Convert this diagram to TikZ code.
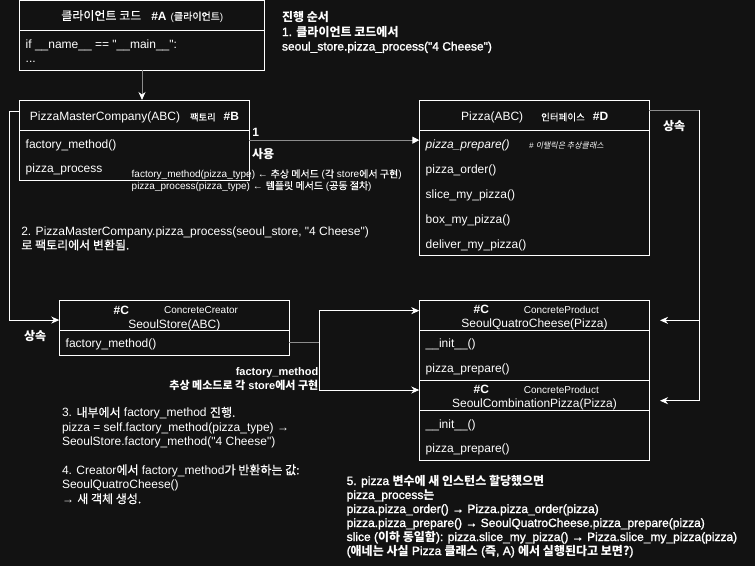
\documentclass[tikz,border=0pt]{standalone}
\usepackage{fontspec}
\setmainfont{Liberation Sans}[Ligatures=TeXOff]
\newfontfamily\fakeb{Liberation Sans}[FakeBold=1.6,Ligatures=TeXOff]
\newfontfamily\krf[FakeBold=0.5]{Noto Sans CJK KR}
\newfontfamily\krfb{Noto Sans CJK KR}
\newfontfamily\krfit[FakeSlant=0.2]{Noto Sans CJK KR}
\newcommand\K[1]{{\krf #1}}
\newcommand\KB[1]{{\krfb\bfseries #1}}
\usetikzlibrary{arrows.meta}
\definecolor{bg}{HTML}{121212}
\definecolor{lgray}{HTML}{8C8C8C}
\begin{document}
\begin{tikzpicture}[x=1pt,y=-1pt,
  box/.style={draw=white,line width=1pt,inner sep=0pt,outer sep=0pt,anchor=north west},
  sep/.style={draw=white,line width=1pt},
  wline/.style={draw=white,line width=1pt},
  gline/.style={draw=lgray,line width=1pt},
  wtip/.style={-{Stealth[length=8pt,width=7pt,inset=2.5pt,color=white]}},
  ttip/.style={-{Triangle[length=7pt,width=7pt,color=white]}},
  txt/.style={inner sep=0pt,outer sep=0pt,text=white,anchor=base west,font=\fontsize{12}{14.4}\selectfont},
  ctxt/.style={txt,anchor=base},
  btxt/.style={txt,font=\fontsize{12}{14}\selectfont\fakeb},
  rb11/.style={txt,anchor=base east,font=\fontsize{11}{13}\selectfont\bfseries},
  stxt/.style={txt,font=\fontsize{10}{12}\selectfont},
  bold12/.style={txt,font=\fontsize{12}{14.4}\selectfont\bfseries},
  small/.style={txt,anchor=base,font=\fontsize{10}{12}\selectfont},
]
\useasboundingbox[fill=bg] (0,0) rectangle (755,566);

% boxes
\node[box,minimum width=244.6pt,minimum height=69.6pt] (A) at (19.7,0.7) {};
\node[box,minimum width=229.6pt,minimum height=80.3pt] (B) at (19.7,100) {};
\node[box,minimum width=230pt,minimum height=154.3pt] (P) at (419.3,100.7) {};
\node[box,minimum width=230pt,minimum height=54.3pt] (S) at (59.3,300.7) {};
\node[box,minimum width=230pt,minimum height=79.7pt] (Q) at (419.3,300.3) {};
\node[box,minimum width=230pt,minimum height=80pt] (C) at (419.3,380) {};

% header separators
\draw[sep] ([yshift=-29.6pt]A.north west) -- ([yshift=-29.6pt]A.north east);
\draw[sep] ([yshift=-30.3pt]B.north west) -- ([yshift=-30.3pt]B.north east);
\draw[sep] ([yshift=-29.6pt]P.north west) -- ([yshift=-29.6pt]P.north east);
\draw[sep] ([yshift=-29.6pt]S.north west) -- ([yshift=-29.6pt]S.north east);
\draw[sep] ([yshift=-30.4pt]Q.north west) -- ([yshift=-30.4pt]Q.north east);
\draw[sep] ([yshift=-30.3pt]C.north west) -- ([yshift=-30.3pt]C.north east);

% box A
\node[ctxt] (ah) at (142.3,20) {\K{클라이언트 코드}\hspace{10pt}\textbf{\#A}\hspace{4pt}{\fontsize{10}{12}\selectfont(\K{클라이언트})}};
\node[txt] (a1) at (25.7,48.3) {if \_\_name\_\_ == "\_\_main\_\_":};
\node[txt] (a2) at (25.7,62) {...};

% box B
\node[ctxt] (bh) at (134.5,120.6) {PizzaMasterCompany(ABC)\hspace{10pt}{\fontsize{9.3}{11}\selectfont\K{팩토리}}\hspace{8pt}\textbf{\#B}};
\node[txt] (b1) at (25.7,148.6) {factory\_method()};
\node[txt] (b2) at (25.7,172.6) {pizza\_process};

% box Pizza
\node[ctxt] (ph) at (534.7,120.6) {Pizza(ABC)\hspace{18pt}{\fontsize{9.5}{11}\selectfont\K{인터페이스}}\hspace{8pt}\textbf{\#D}};
\node[txt] (p1) at (425.7,148.3) {\textit{pizza\_prepare()}};
\node[txt,font=\fontsize{8}{10}\selectfont] (pn) at (529,148) {\textit{\#} {\krfit 이탤릭은 추상클래스}};
\node[txt] (p2) at (425.7,173.3) {pizza\_order()};
\node[txt] (p3) at (425.7,198.3) {slice\_my\_pizza()};
\node[txt] (p4) at (425.7,223.3) {box\_my\_pizza()};
\node[txt] (p5) at (425.7,248.3) {deliver\_my\_pizza()};

% box SeoulStore
\node[bold12,anchor=base] (sc) at (121.3,314) {\#C};
\node[small] (scc) at (201,313.6) {ConcreteCreator};
\node[ctxt] (sh) at (174.3,328) {SeoulStore(ABC)};
\node[txt] (s1) at (65.7,347.6) {factory\_method()};

% box SeoulQuatroCheese
\node[bold12,anchor=base] (qc) at (481.3,313.3) {\#C};
\node[small] (qcp) at (561.3,313.3) {ConcreteProduct};
\node[ctxt] (qh) at (534.5,327.6) {SeoulQuatroCheese(Pizza)};
\node[txt] (q1) at (425.7,347.5) {\_\_init\_\_()};
\node[txt] (q2) at (425.7,372.8) {pizza\_prepare()};

% box SeoulCombinationPizza
\node[bold12,anchor=base] (cc) at (481.3,393.3) {\#C};
\node[small] (ccp) at (561.3,393.3) {ConcreteProduct};
\node[ctxt] (ch) at (534.5,407.6) {SeoulCombinationPizza(Pizza)};
\node[txt] (c1) at (425.7,428) {\_\_init\_\_()};
\node[txt] (c2) at (425.7,452.5) {pizza\_prepare()};

% connectors
\draw[gline,wtip] (A.south) -- (A.south |- B.north);
\draw[gline,ttip] (B.east) -- (B.east -| P.west);
\draw[wline,wtip] ([yshift=-11.6pt]B.north west) -- ++(-10.4,0) |- ([yshift=7.8pt]S.west);
\coordinate (rj) at ([xshift=49.7pt,yshift=-9.5pt]P.north east);
\coordinate (rq) at ([xshift=10.7pt,yshift=19.8pt]Q.east);
\coordinate (rc) at ([xshift=10.7pt,yshift=19.3pt]C.east);
\draw[gline] ([yshift=-9.5pt]P.north east) -- (rj);
\draw[wline,wtip] (rj) |- (rc);
\draw[wline,wtip] (rj |- rq) -- (rq);
\coordinate (sj) at ([xshift=29.7pt,yshift=-14.85pt]S.east);
\draw[gline] ([yshift=-14.85pt]S.east) -- (sj);
\draw[wline,wtip] (sj) |- ([yshift=29.5pt]Q.west);
\draw[wline,wtip] (sj) |- ([yshift=30pt]C.west);

% connector labels
\node[bold12] (one) at (252.3,136.3) {1};
\node[btxt] (use) at (252,158.5) {\KB{사용}};
\node[btxt] (inhr) at (663,130.5) {\KB{상속}};
\node[btxt] (inhl) at (24,340) {\KB{상속}};
\node[stxt] (n1) at (131.7,177.6) {factory\_method(pizza\_type) ← \K{추상 메서드} (\K{각} store\K{에서 구현})};
\node[stxt] (n2) at (131.7,189.3) {pizza\_process(pizza\_type) ← \K{템플릿 메서드} (\K{공동 절차})};
\node[rb11] (fm1) at (318.3,375) {factory\_method};
\node[rb11] (fm2) at (318.3,389) {\KB{추상 메소드로 각} store\KB{에서 구현}};

% block 1
\node[btxt] (o1) at (282,21.5) {\KB{진행 순서}};
\node[btxt] (o2) at (282,36) {1. \KB{클라이언트 코드에서}};
\node[btxt] (o3) at (282,50.5) {seoul\_store.pizza\_process("4 Cheese")};

% block 2
\node[txt] (w1) at (21.3,235.3) {2. PizzaMasterCompany.pizza\_process(seoul\_store, "4 Cheese")};
\node[txt] (w2) at (21.3,249.5) {\K{로 팩토리에서 변환됨.}};

% block 3/4
\node[txt] (h1) at (62,416.8) {3. \K{내부에서} factory\_method \K{진행.}};
\node[txt] (h2) at (62,431.2) {pizza = self.factory\_method(pizza\_type) →};
\node[txt] (h3) at (62,445.6) {SeoulStore.factory\_method("4 Cheese")};
\node[txt] (h4) at (62,474.4) {4. Creator\K{에서} factory\_method\K{가 반환하는 값:}};
\node[txt] (h5) at (62,488.8) {SeoulQuatroCheese()};
\node[txt] (h6) at (62,503.2) {→ \K{새 객체 생성.}};

% block 5
\node[btxt] (f1) at (346.7,485) {5. pizza \KB{변수에 새 인스턴스 할당했으면}};
\node[btxt] (f2) at (346.7,499) {pizza\_process\KB{는}};
\node[btxt] (f3) at (346.7,513) {pizza.pizza\_order() → Pizza.pizza\_order(pizza)};
\node[btxt] (f4) at (346.7,527) {pizza.pizza\_prepare() → SeoulQuatroCheese.pizza\_prepare(pizza)};
\node[btxt] (f5) at (346.7,541) {slice (\KB{이하 동일함}): pizza.slice\_my\_pizza() → Pizza.slice\_my\_pizza(pizza)};
\node[btxt] (f6) at (346.7,555) {(\KB{애네는 사실} Pizza \KB{클래스} (\KB{즉}, A) \KB{에서 실행된다고 보면?})};
\end{tikzpicture}
\end{document}
